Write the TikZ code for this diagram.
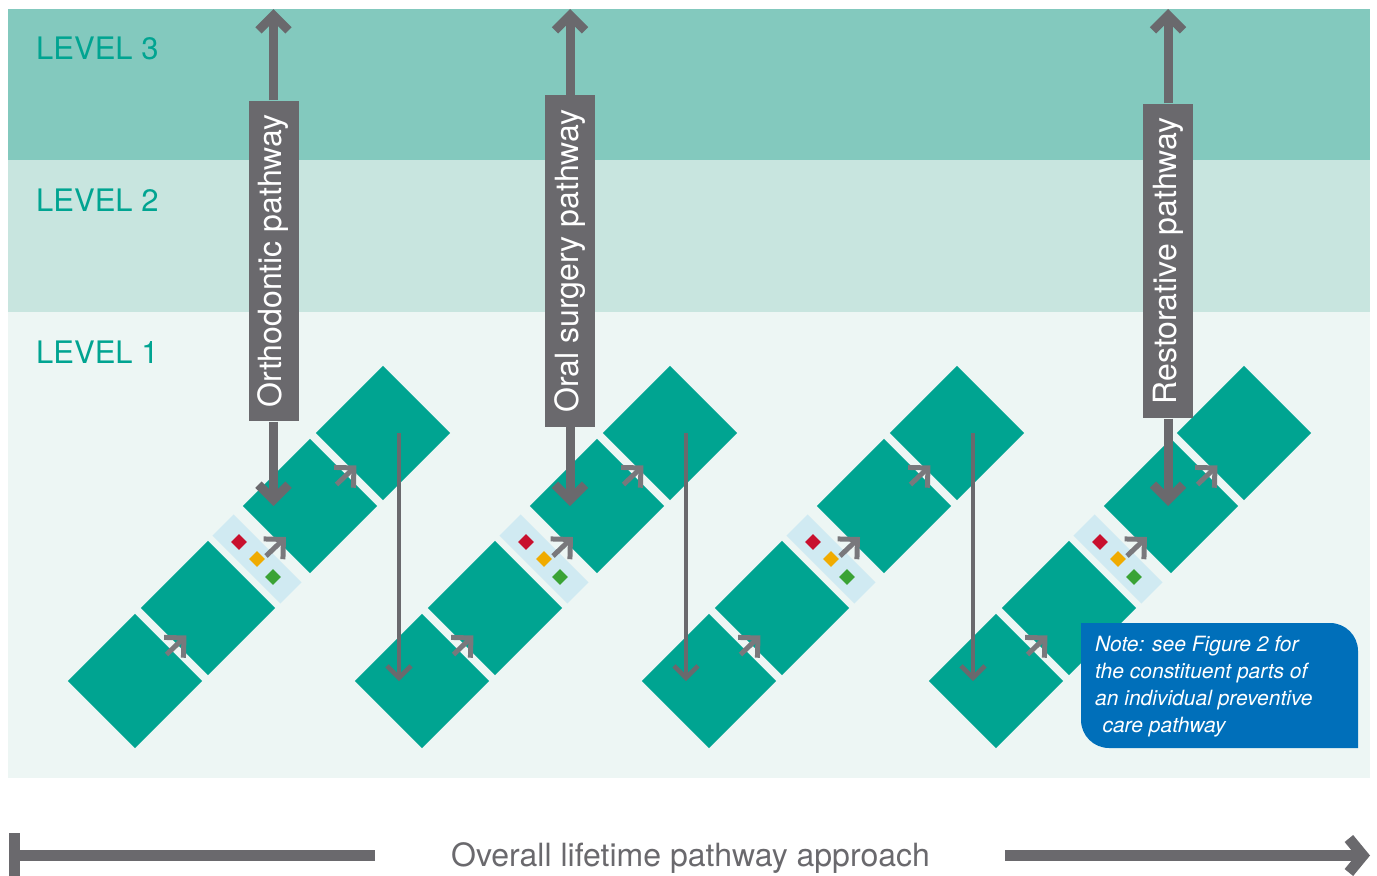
\documentclass[tikz,border=0pt]{standalone}
\usepackage{fontspec}
\setmainfont{TeX Gyre Heros}
\usetikzlibrary{arrows.meta,calc}

\definecolor{levelthree}{HTML}{83C9BE}
\definecolor{leveltwo}{HTML}{C8E5DF}
\definecolor{levelone}{HTML}{EDF6F4}
\definecolor{careteal}{HTML}{00A491}
\definecolor{pathgray}{HTML}{6A696D}
\definecolor{stripblue}{HTML}{D0EAF2}
\definecolor{flagred}{HTML}{C8102E}
\definecolor{flagamber}{HTML}{F0AB00}
\definecolor{flaggreen}{HTML}{3AA335}
\definecolor{noteblue}{HTML}{006FBA}

\begin{document}
\begin{tikzpicture}[x=1pt, y=-1pt,
  tile/.style={rectangle, fill=careteal, rotate=45, minimum size=95pt, inner sep=0pt},
  strip/.style={rectangle, fill=stripblue, rotate=45, minimum width=30pt, minimum height=96pt, inner sep=0pt},
  flag/.style={rectangle, rotate=45, minimum size=11pt, inner sep=0pt},
  levellabel/.style={anchor=base west, text=careteal, inner sep=0pt, font=\fontsize{31}{31}\selectfont},
  pathbox/.style={fill=pathgray, text=white, rotate=90, minimum height=50pt, inner ysep=0pt, inner xsep=14pt, font=\fontsize{32}{32}\selectfont},
  bigarrow/.style={draw=pathgray, line width=9pt, -{Straight Barb[length=15pt, width=30pt]}},
  droparrow/.style={draw=pathgray, line width=4.5pt, -{Straight Barb[length=12pt, width=24pt]}},
  steparrow/.style={draw=pathgray!90, line width=5pt, -{Straight Barb[length=14pt, width=28pt]}},
  lifeline/.style={draw=pathgray, line width=11pt}
]
\useasboundingbox (0,0) rectangle (1377,876);

% Levels
\fill[levelthree] (8,9) rectangle (1370,160);
\fill[leveltwo] (8,160) rectangle (1370,312);
\fill[levelone] (8,312) rectangle (1370,778);
\node[levellabel] (lev3) at (36,59) {LEVEL 3};
\node[levellabel] (lev2) at (36,211) {LEVEL 2};
\node[levellabel] (lev1) at (36,363) {LEVEL 1};
\coordinate (top) at (0,9);

% Preventive care pathways
\foreach \k [evaluate=\k as \dx using 287*(\k-1)] in {1,...,4} {
  \node[tile] (a\k) at (135+\dx,681) {};
  \node[tile] (b\k) at (208+\dx,608) {};
  \node[strip] (s\k) at (257+\dx,559) {};
  \node[tile] (c\k) at (310+\dx,506) {};
  \node[tile] (d\k) at (383+\dx,433) {};
  \node[flag, fill=flagred] (r\k) at ($(s\k)+(-18,-17)$) {};
  \node[flag, fill=flagamber] (o\k) at (s\k) {};
  \node[flag, fill=flaggreen] (g\k) at ($(s\k)+(16,18)$) {};
  \draw[steparrow] ($(a\k)!0.5!(b\k)+(-5,10)$) -- ++(20,-19);
  \draw[steparrow] ($(s\k)+(9,-3)$) -- ++(20,-19);
  \draw[steparrow] ($(c\k)!0.5!(d\k)+(-10,15)$) -- ++(20,-19);
}

% Links between pathways
\foreach \k/\n in {1/2,2/3,3/4}
  \draw[droparrow] ([xshift=16pt]d\k.center) -- ([xshift=16pt]d\k.center |- a\n.center);

% Specialist pathways
\node[pathbox] (ortho) at (273.5,261) {Orthodontic pathway};
\node[pathbox] (oral) at (570,261) {Oral surgery pathway};
\node[pathbox] (resto) at (1168,261) {Restorative pathway};
\draw[bigarrow] (ortho.east) -- (ortho.east |- top);
\draw[bigarrow] (ortho.west) -- (ortho.west |- c1.center);
\draw[bigarrow] (oral.east) -- (oral.east |- top);
\draw[bigarrow] (oral.west) -- (oral.west |- c2.center);
\draw[bigarrow] (resto.east) -- (resto.east |- top);
\draw[bigarrow] (resto.west) -- (resto.west |- c4.center);

% Note
\fill[noteblue] (1081,623) [rounded corners=28pt] -- (1358,623) [sharp corners] -- (1358,748) [rounded corners=28pt] -- (1081,748) [sharp corners] -- cycle;
\node[anchor=north west, inner sep=0pt, align=left, text=white, font=\fontsize{21}{27}\selectfont\itshape] (note) at (1095,636)
  {Note: see Figure 2 for\\the constituent parts of\\an individual preventive\\\hspace*{0.35em}care pathway};

% Lifetime axis
\coordinate (lifestart) at (9,855.5);
\coordinate (lifeend) at (1370,855.5);
\node[anchor=base, inner sep=0pt, text=pathgray, font=\fontsize{32}{32}\selectfont] (lifetime) at (690.5,866) {Overall lifetime pathway approach};
\draw[lifeline, {Bar[width=46pt]}-] (lifestart) -- ([xshift=-76pt]lifestart -| lifetime.west);
\draw[lifeline, -{Straight Barb[length=14pt, width=34pt]}] ([xshift=75pt]lifeend -| lifetime.east) -- (lifeend);

\end{tikzpicture}
\end{document}
